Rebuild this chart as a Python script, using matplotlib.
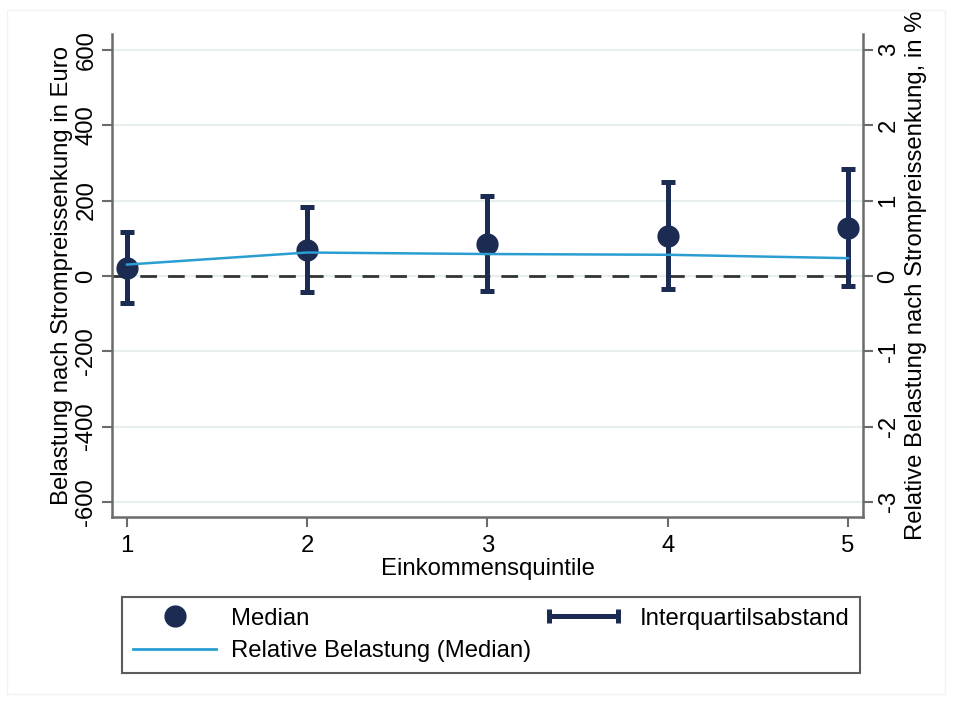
import numpy as np
import matplotlib
matplotlib.use('Agg')
import matplotlib.pyplot as plt
from matplotlib.lines import Line2D
from matplotlib.legend_handler import HandlerLine2D
from matplotlib.patches import Rectangle

plt.rcParams['font.family'] = ['Liberation Sans', 'DejaVu Sans']
plt.rcParams['axes.unicode_minus'] = False

quintile = [1, 2, 3, 4, 5]
median_eur = [22, 69, 84, 106, 128]
p25_eur = [-72, -44, -40, -35, -26]
p75_eur = [116, 182, 212, 249, 284]
rel_median_pct = [0.15, 0.31, 0.29, 0.28, 0.235]

navy = '#1c2b52'
lightblue = '#2a9dd2'
axis_gray = '#6b6b6b'
fs = 17.2

fig = plt.figure(figsize=(9.54, 7.02), dpi=100)
fig.patches.append(Rectangle((7/954, 8/702), 938/954, 684/702, transform=fig.transFigure,
                             fill=False, edgecolor='#eef3f3', lw=1))
ax = fig.add_axes([112/954, 1 - 517/702, 751/954, 483/702])
ax2 = ax.twinx()

med = np.array(median_eur)
yerr = [med - np.array(p25_eur), np.array(p75_eur) - med]
ax.axhline(0, color='#333333', lw=2, dashes=(6, 4), zorder=1)
ax.errorbar(quintile, median_eur, yerr=yerr, fmt='none', ecolor=navy, elinewidth=3.6,
            capsize=5, capthick=3.6, zorder=3)
ax.plot(quintile, median_eur, 'o', color=navy, markersize=15, zorder=4)
ax2.plot(quintile, rel_median_pct, color=lightblue, lw=1.8)

ax.set_xlim(0.917, 5.083)
ax.set_ylim(-640, 642)
ax2.set_ylim(-3.2, 3.21)
ax.set_xticks(quintile)
ax.set_yticks(np.arange(-600, 601, 200))
ax2.set_yticks(np.arange(-3, 4, 1))
ax.grid(axis='y', color='#e6eef0', lw=1.5)
ax.set_axisbelow(True)

for a in (ax, ax2):
    a.spines['top'].set_visible(False)
    for s in ('left', 'right', 'bottom'):
        a.spines[s].set_color(axis_gray)
        a.spines[s].set_linewidth(1.8)
    a.tick_params(colors=axis_gray, labelcolor='black', width=1.5, length=7, labelsize=fs)
ax.tick_params(axis='x', pad=6)
ax.spines['right'].set_visible(False)
ax2.spines['left'].set_visible(False)
ax2.spines['bottom'].set_visible(False)

for lab in ax.get_yticklabels():
    lab.set_rotation(90)
    lab.set_va('center')
for lab in ax2.get_yticklabels():
    lab.set_rotation(90)
    lab.set_va('center')

ax.set_xlabel('Einkommensquintile', fontsize=fs, labelpad=1)
ax.set_ylabel('Belastung nach Strompreissenkung in Euro', fontsize=fs, labelpad=2)
ax2.set_ylabel('Relative Belastung nach Strompreissenkung, in %', fontsize=fs,
               rotation=90, labelpad=4)

h_med = Line2D([], [], ls='none', marker='o', color=navy, markersize=15)
h_rel = Line2D([], [], color=lightblue, lw=2)
h_iqr = Line2D([], [], color=navy, lw=3.6, marker='|', markersize=10, mew=3.6)
leg = fig.legend([h_med, h_rel, h_iqr],
                 ['Median', 'Relative Belastung (Median)', 'Interquartilsabstand'],
                 ncol=2, loc='upper left', bbox_to_anchor=(122/954, 1 - 597/702),
                 fontsize=fs, frameon=True, fancybox=False, edgecolor='#333333',
                 handlelength=3.5, handletextpad=0.6, columnspacing=0.45,
                 borderpad=0.45, labelspacing=0.45, borderaxespad=0,
                 handler_map={h_iqr: HandlerLine2D(numpoints=2)})
leg.get_frame().set_linewidth(1.5)

fig.savefig('out.png', dpi=100, facecolor='w')
